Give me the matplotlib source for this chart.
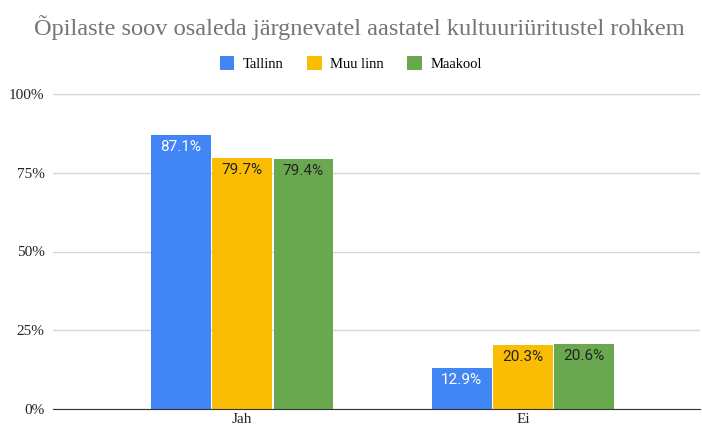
import matplotlib.pyplot as plt
import numpy as np

categories = ["Jah", "Ei"]
series_names = ["Tallinn", "Muu linn", "Maakool"]
tallinn = [87.1, 12.9]
muu_linn = [79.7, 20.3]
maakool = [79.4, 20.6]
yticks = [0, 25, 50, 75, 100]

colors = ["#4285F4", "#FBBC04", "#6AA84F"]
label_colors = ["white", "#222222", "#222222"]

fig = plt.figure(figsize=(7.02, 4.30), dpi=100)
ax = fig.add_axes([53 / 702, 21 / 430, 647 / 702, 315 / 430])

x = np.arange(len(categories))
w = 0.212
for i, (name, vals) in enumerate(zip(series_names, [tallinn, muu_linn, maakool])):
    pos = x + (i - 1) * (w + 0.006)
    bars = ax.bar(pos, vals, w, color=colors[i], label=name, zorder=3)
    for b, v in zip(bars, vals):
        ax.text(b.get_x() + b.get_width() / 2, v - 1.6, f"{v}%", ha="center", va="top",
                color=label_colors[i], fontsize=11, family="Roboto", zorder=4)

ax.set_xlim(-0.673, 1.63)
ax.set_ylim(0, 100)
ax.set_xticks(x)
ax.set_xticklabels(categories, family="Liberation Serif", fontsize=11, color="#222222")
ax.set_yticks(yticks)
ax.set_yticklabels([f"{t}%" for t in yticks], family="Liberation Serif", fontsize=11, color="#222222")
ax.tick_params(length=0)
ax.tick_params(axis="x", pad=3)
ax.tick_params(axis="y", pad=6)
ax.grid(axis="y", color="#d6d6d6", linewidth=1, zorder=0)
for s in ["top", "right", "left"]:
    ax.spines[s].set_visible(False)
ax.spines["bottom"].set_color("#333333")
ax.spines["bottom"].set_zorder(5)

fig.text(0.512, 0.935, "Õpilaste soov osaleda järgnevatel aastatel kultuuriüritustel rohkem",
         ha="center", va="center", fontsize=17.6, color="#757575", family="Liberation Serif")
fig.legend(loc="center", bbox_to_anchor=(0.5, 0.853), ncol=3, frameon=False,
           prop={"family": "Liberation Serif", "size": 10.5}, handlelength=1.0, handleheight=1.2,
           handletextpad=0.6, columnspacing=1.6)

fig.savefig("out.png", dpi=100)
